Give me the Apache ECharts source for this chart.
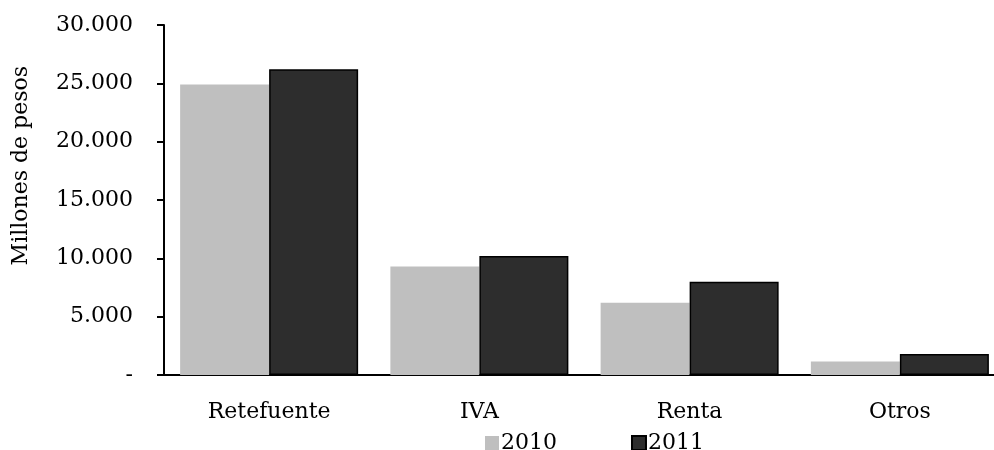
<!DOCTYPE html>
<html>
<head>
<meta charset="utf-8">
<script src="https://cdn.jsdelivr.net/npm/echarts@6/dist/echarts.min.js"></script>
<style>
html,body{margin:0;padding:0;background:#fff;}
#chart{width:994px;height:450px;}
</style>
</head>
<body>
<div id="chart"></div>
<script>
const categories = ['Retefuente', 'IVA', 'Renta', 'Otros'];
const seriesNames = ['2010', '2011'];
const values2010 = [24900, 9300, 6200, 1150];
const values2011 = [26200, 10200, 8000, 1800];
const yTicks = [0, 5000, 10000, 15000, 20000, 25000, 30000];
const yAxisTitle = 'Millones de pesos';

const FONT = 'DejaVu Serif';
function fmt(v) {
  if (v === 0) return '-';
  return String(v).replace(/\B(?=(\d{3})+(?!\d))/g, '.');
}

const chart = echarts.init(document.getElementById('chart'), null, {renderer: 'canvas'});
chart.setOption({
  backgroundColor: '#ffffff',
  animation: false,
  textStyle: {fontFamily: FONT, color: '#000'},
  grid: {left: 164, top: 25, height: 350, width: 841, outerBoundsMode: 'none', containLabel: false},
  legend: {
    data: seriesNames,
    left: 480, top: 427,
    icon: 'rect',
    itemWidth: 14, itemHeight: 14,
    itemGap: 74,
    textStyle: {fontFamily: FONT, fontSize: 22, color: '#000', padding: [0, 0, 0, -3]}
  },
  graphic: [{
    type: 'text',
    left: 10, top: 66,
    rotation: Math.PI / 2,
    style: {text: yAxisTitle, font: '22px "DejaVu Serif"', fill: '#000'}
  }],
  xAxis: {
    type: 'category',
    data: categories,
    axisLine: {lineStyle: {color: '#000', width: 2}},
    axisTick: {show: false},
    axisLabel: {margin: 26, fontFamily: FONT, fontSize: 22, color: '#000'}
  },
  yAxis: {
    type: 'value',
    min: yTicks[0], max: yTicks[yTicks.length - 1], interval: yTicks[1] - yTicks[0],
    splitLine: {show: false},
    axisLine: {show: true, lineStyle: {color: '#000', width: 2}},
    axisTick: {show: true, length: 7, lineStyle: {color: '#000', width: 2}},
    axisLabel: {margin: 31, fontFamily: FONT, fontSize: 22, color: '#000', formatter: fmt}
  },
  series: [
    {
      name: seriesNames[0], type: 'bar', data: values2010,
      barWidth: 89, barGap: '0%',
      itemStyle: {color: '#bfbfbf'}
    },
    {
      name: seriesNames[1], type: 'bar', data: values2011,
      barWidth: 89, barGap: '0%',
      itemStyle: {color: '#2d2d2d', borderColor: '#000', borderWidth: 1.5}
    }
  ]
});
</script>
</body>
</html>
